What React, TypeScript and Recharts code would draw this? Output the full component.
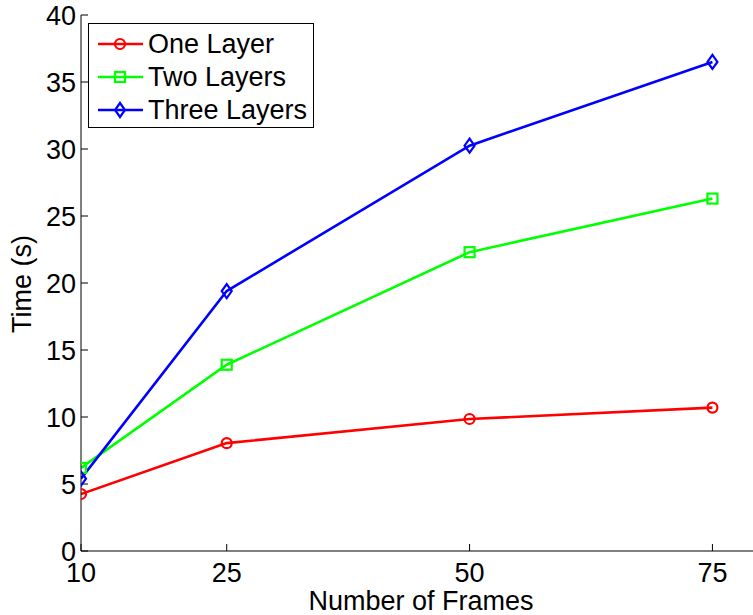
import React from "react";
import { LineChart, Line, XAxis, YAxis, Label } from "recharts";

const frames = [10, 25, 50, 75];
const oneLayer = [4.25, 8.05, 9.85, 10.7];
const twoLayers = [6.2, 13.9, 22.3, 26.3];
const threeLayers = [5.4, 19.4, 30.25, 36.5];
const yTicks = [0, 5, 10, 15, 20, 25, 30, 35, 40];

const seriesNames = ["One Layer", "Two Layers", "Three Layers"];
const COLORS = ["#ff0000", "#00ff00", "#0000ff"];

const data = frames.map((f, i) => ({
	frames: f,
	one: oneLayer[i],
	two: twoLayers[i],
	three: threeLayers[i],
}));

const FONT = "'Liberation Sans', Arial, Helvetica, sans-serif";

const CircleDot = ({ cx, cy }: any) => (
	<circle cx={cx} cy={cy} r={5} fill="none" stroke={COLORS[0]} strokeWidth={2.2} />
);
const SquareDot = ({ cx, cy }: any) => (
	<rect x={cx - 5} y={cy - 5} width={10} height={10} fill="none" stroke={COLORS[1]} strokeWidth={2.2} />
);
const DiamondDot = ({ cx, cy }: any) => (
	<path
		d={`M${cx},${cy - 7}L${cx + 5},${cy}L${cx},${cy + 7}L${cx - 5},${cy}Z`}
		fill="none"
		stroke={COLORS[2]}
		strokeWidth={2.2}
	/>
);

function LegendBox() {
	const marker = (i: number) => {
		if (i === 0) return <circle cx={23} cy={10} r={5} fill="none" stroke={COLORS[0]} strokeWidth={2.2} />;
		if (i === 1) return <rect x={18} y={5} width={10} height={10} fill="none" stroke={COLORS[1]} strokeWidth={2.2} />;
		return <path d="M23,3L28,10L23,17L18,10Z" fill="none" stroke={COLORS[2]} strokeWidth={2.2} />;
	};
	return (
		<div
			style={{
				position: "absolute",
				left: 88,
				top: 23,
				width: 224,
				height: 103,
				border: "1px solid #000",
				background: "#fff",
				fontFamily: FONT,
				fontSize: 27,
				color: "#000",
			}}>
			{seriesNames.map((name, i) => (
				<div
					key={name}
					style={{
						position: "absolute",
						left: 8,
						top: 4 + i * 33,
						height: 32,
						display: "flex",
						alignItems: "center",
						whiteSpace: "nowrap",
					}}>
					<svg width={50} height={20} style={{ display: "block" }}>
						<line x1={1} y1={10} x2={46} y2={10} stroke={COLORS[i]} strokeWidth={2.6} />
						{marker(i)}
					</svg>
					<span style={{ marginLeft: 1, lineHeight: "32px" }}>{name}</span>
				</div>
			))}
		</div>
	);
}

export default function App() {
	return (
		<div
			style={{
				position: "absolute",
				left: 0,
				top: 0,
				width: 753,
				height: 615,
				overflow: "hidden",
				background: "#fff",
			}}>
			<LineChart
				width={780}
				height={615}
				data={data}
				margin={{ top: 15, right: 19, bottom: 24, left: 21 }}
				style={{ fontFamily: FONT }}>
				<XAxis
					dataKey="frames"
					type="number"
					domain={[10, 80]}
					ticks={frames}
					interval={0}
					allowDataOverflow
					height={40}
					tickSize={-7}
					tickMargin={19}
					stroke="#000"
					tick={{ fill: "#000", fontSize: 27, fontFamily: FONT }}
					tickLine={{ stroke: "#000" }}>
					<Label
						content={() => (
							<text
								x={421}
								y={610}
								textAnchor="middle"
								fontSize={27}
								fontFamily={FONT}
								fill="#000">
								Number of Frames
							</text>
						)}
					/>
				</XAxis>
				<XAxis
					xAxisId="top"
					orientation="top"
					type="number"
					domain={[10, 80]}
					ticks={frames}
					interval={0}
					height={0}
					tickSize={-7}
					tick={false}
					stroke="#000"
					tickLine={{ stroke: "#000" }}
				/>
				<YAxis
					type="number"
					domain={[0, 40]}
					ticks={yTicks}
					interval={0}
					width={60}
					tickSize={-7}
					tickMargin={12}
					stroke="#000"
					tick={{ fill: "#000", fontSize: 27, fontFamily: FONT }}
					tickLine={{ stroke: "#000" }}>
					<Label
						content={() => (
							<text
								x={31}
								y={284}
								transform="rotate(-90 31 284)"
								textAnchor="middle"
								fontSize={27}
								fontFamily={FONT}
								fill="#000">
								Time (s)
							</text>
						)}
					/>
				</YAxis>
				<Line
					dataKey="one"
					stroke={COLORS[0]}
					strokeWidth={2.6}
					dot={<CircleDot />}
					activeDot={false}
					isAnimationActive={false}
				/>
				<Line
					dataKey="two"
					stroke={COLORS[1]}
					strokeWidth={2.6}
					dot={<SquareDot />}
					activeDot={false}
					isAnimationActive={false}
				/>
				<Line
					dataKey="three"
					stroke={COLORS[2]}
					strokeWidth={2.6}
					dot={<DiamondDot />}
					activeDot={false}
					isAnimationActive={false}
				/>
			</LineChart>
			<LegendBox />
		</div>
	);
}
